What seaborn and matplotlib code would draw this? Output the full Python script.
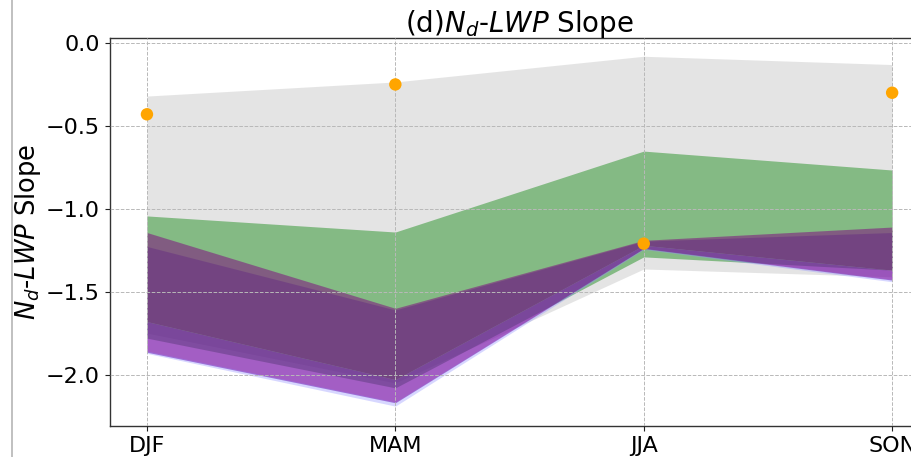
import matplotlib
matplotlib.use("Agg")
import matplotlib.pyplot as plt
from matplotlib.lines import Line2D
import numpy as np
import pandas as pd
import seaborn as sns

# Seasons on the x axis
seasons = ["DJF", "MAM", "JJA", "SON"]

# Observed slope per season
obs_slope = [-0.43, -0.25, -1.21, -0.30]

# Ensemble ranges (upper / lower bound) per season
gray_hi = [-0.32, -0.235, -0.08, -0.13]
gray_lo = [-1.75, -2.05, -1.363, -1.41]

green_hi = [-1.043, -1.14, -0.652, -0.766]
green_lo = [-1.78, -2.08, -1.29, -1.37]

purple1_hi = [-1.143, -1.60, -1.19, -1.11]
purple1_lo = [-1.68, -2.03, -1.22, -1.37]

purple2_hi = [-1.227, -1.61, -1.195, -1.143]
purple2_lo = [-1.68, -2.03, -1.22, -1.37]

violet_hi = [-1.68, -2.03, -1.22, -1.37]
violet_lo = [-1.865, -2.17, -1.24, -1.43]

blue_hi = [-1.858, -2.165, -1.238, -1.426]
blue_lo = [-1.872, -2.19, -1.245, -1.44]

yticks = [0.0, -0.5, -1.0, -1.5, -2.0]

sns.set_style("white")
plt.rcParams["font.family"] = ["DejaVu Sans"]
plt.rcParams["mathtext.fontset"] = "dejavusans"
plt.rcParams["text.color"] = "black"

fig = plt.figure(figsize=(9.11, 4.57), dpi=100)
ax = fig.add_axes([0.1204, 0.0678, 0.8998, 0.849])

x = np.arange(len(seasons))

bands = [
    (gray_lo, gray_hi, "#d3d3d3", 0.6),
    (green_lo, green_hi, "green", 0.42),
    (purple1_lo, purple1_hi, "purple", 0.5),
    (purple2_lo, purple2_hi, "#4b0082", 0.25),
    (violet_lo, violet_hi, "#760fa7", 0.67),
    (blue_lo, blue_hi, "#8f8fff", 0.35),
]
for lo, hi, col, a in bands:
    ax.fill_between(x, lo, hi, color=col, alpha=a, linewidth=0, zorder=2)

df = pd.DataFrame({"x": x, "slope": obs_slope})
sns.scatterplot(data=df, x="x", y="slope", color="orange", s=80,
                edgecolor="none", zorder=5, ax=ax)

ax.set_xlim(-0.15, 3.15)
ax.set_ylim(-2.31, 0.03)
ax.set_xticks(x)
ax.set_xticklabels(seasons)
ax.set_yticks(yticks)
ax.set_yticklabels([f"{v:.1f}".replace("-", "\u2212") for v in yticks])
ax.tick_params(axis="both", labelsize=16, length=3.5, width=0.8,
               direction="out", bottom=True, left=True, colors="#222222")
ax.tick_params(axis="both", labelcolor="black")

ax.set_axisbelow(False)
ax.grid(True, linestyle="--", color="#b8b8b8", linewidth=0.7, zorder=3)

for s in ax.spines.values():
    s.set_color("#333333")
    s.set_linewidth(1.0)

ax.set_xlabel("")
ax.set_ylabel("$N_d$-$LWP$ Slope", fontsize=18.5, color="black", labelpad=2)
ax.set_title("(d)$N_d$-$LWP$ Slope", fontsize=20, pad=4, color="black")

# thin divider line at the left edge of the panel
fig.add_artist(Line2D([11.5 / 911, 11.5 / 911], [0, 1], transform=fig.transFigure,
                      color="#b5b5b5", linewidth=1.2))

fig.savefig("out.png", dpi=100)
